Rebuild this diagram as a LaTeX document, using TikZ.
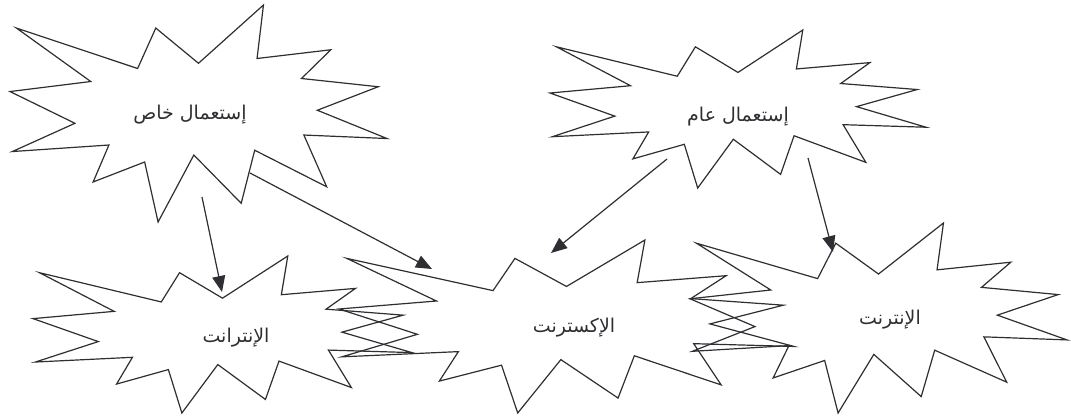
\documentclass[tikz,border=0pt]{standalone}
\usepackage{fontspec}
\usetikzlibrary{arrows.meta}
\TeXXeTstate=1
\newfontfamily\arabicfont[Script=Arabic]{DejaVu Sans}
\definecolor{ink}{HTML}{2E2E33}
\tikzset{
  seal/.style  = {draw=ink, line width=1.2pt, line join=miter},
  burst/.pic   = {
    \draw[seal] (0.5,0.2685) -- (0.6723,0) -- (0.6553,0.2465) -- (0.8509,0.2063)
      -- (0.7732,0.3387) -- (0.9767,0.3767) -- (0.8152,0.4850) -- (1,0.6153)
      -- (0.7795,0.5992) -- (0.8400,0.8377) -- (0.6491,0.6693) -- (0.6133,0.9137)
      -- (0.4876,0.6914) -- (0.3928,1) -- (0.3572,0.7235) -- (0.2205,0.8156)
      -- (0.2624,0.6452) -- (0.00625,0.6753) -- (0.1723,0.5451) -- (0,0.3988)
      -- (0.2142,0.3526) -- (0.0171,0.1063) -- (0.3385,0.2926) -- (0.3867,0.1063)
      -- cycle;
  },
  lbl/.style   = {font=\arabicfont\fontsize{19}{22}\selectfont, text=ink, inner sep=1pt},
  ar/.style    = {-{Triangle[length=16pt,width=13pt]}, line width=1.2pt, draw=ink},
}
\begin{document}
\begin{tikzpicture}[x=1pt, y=-1pt]
  \useasboundingbox (0,0) rectangle (1071,416);

  % the five bursts
  \pic[xscale=377, yscale=217] at (10,5)    {burst};
  \pic[xscale=376, yscale=158] at (550,30)  {burst};
  \pic[xscale=379, yscale=157] at (33,256)  {burst};
  \pic[xscale=455, yscale=173] at (339,240) {burst};
  \pic[xscale=377, yscale=190] at (690,223) {burst};

  \node[lbl] (priv)  at (190,115) {\beginR إستعمال خاص\endR};
  \node[lbl] (pub)   at (738,117) {\beginR إستعمال عام\endR};
  \node[lbl] (intra) at (236,338) {\beginR الإنترانت\endR};
  \node[lbl] (extra) at (574,328) {\beginR الإكسترنت\endR};
  \node[lbl] (inter) at (890,320) {\beginR الإنترنت\endR};

  % arrow ends
  \coordinate (privS1) at (202,197);
  \coordinate (privS2) at (250,173);
  \coordinate (pubS1)  at (667,159);
  \coordinate (pubS2)  at (808,158);
  \coordinate (intraT) at (222,292);
  \coordinate (extraT1) at (432,269);
  \coordinate (extraT2) at (551,253);
  \coordinate (interT) at (833,252);

  \draw[ar] (privS1) -- (intraT);
  \draw[ar] (privS2) -- (extraT1);
  \draw[ar] (pubS1) -- (extraT2);
  \draw[ar] (pubS2) -- (interT);
\end{tikzpicture}
\end{document}
